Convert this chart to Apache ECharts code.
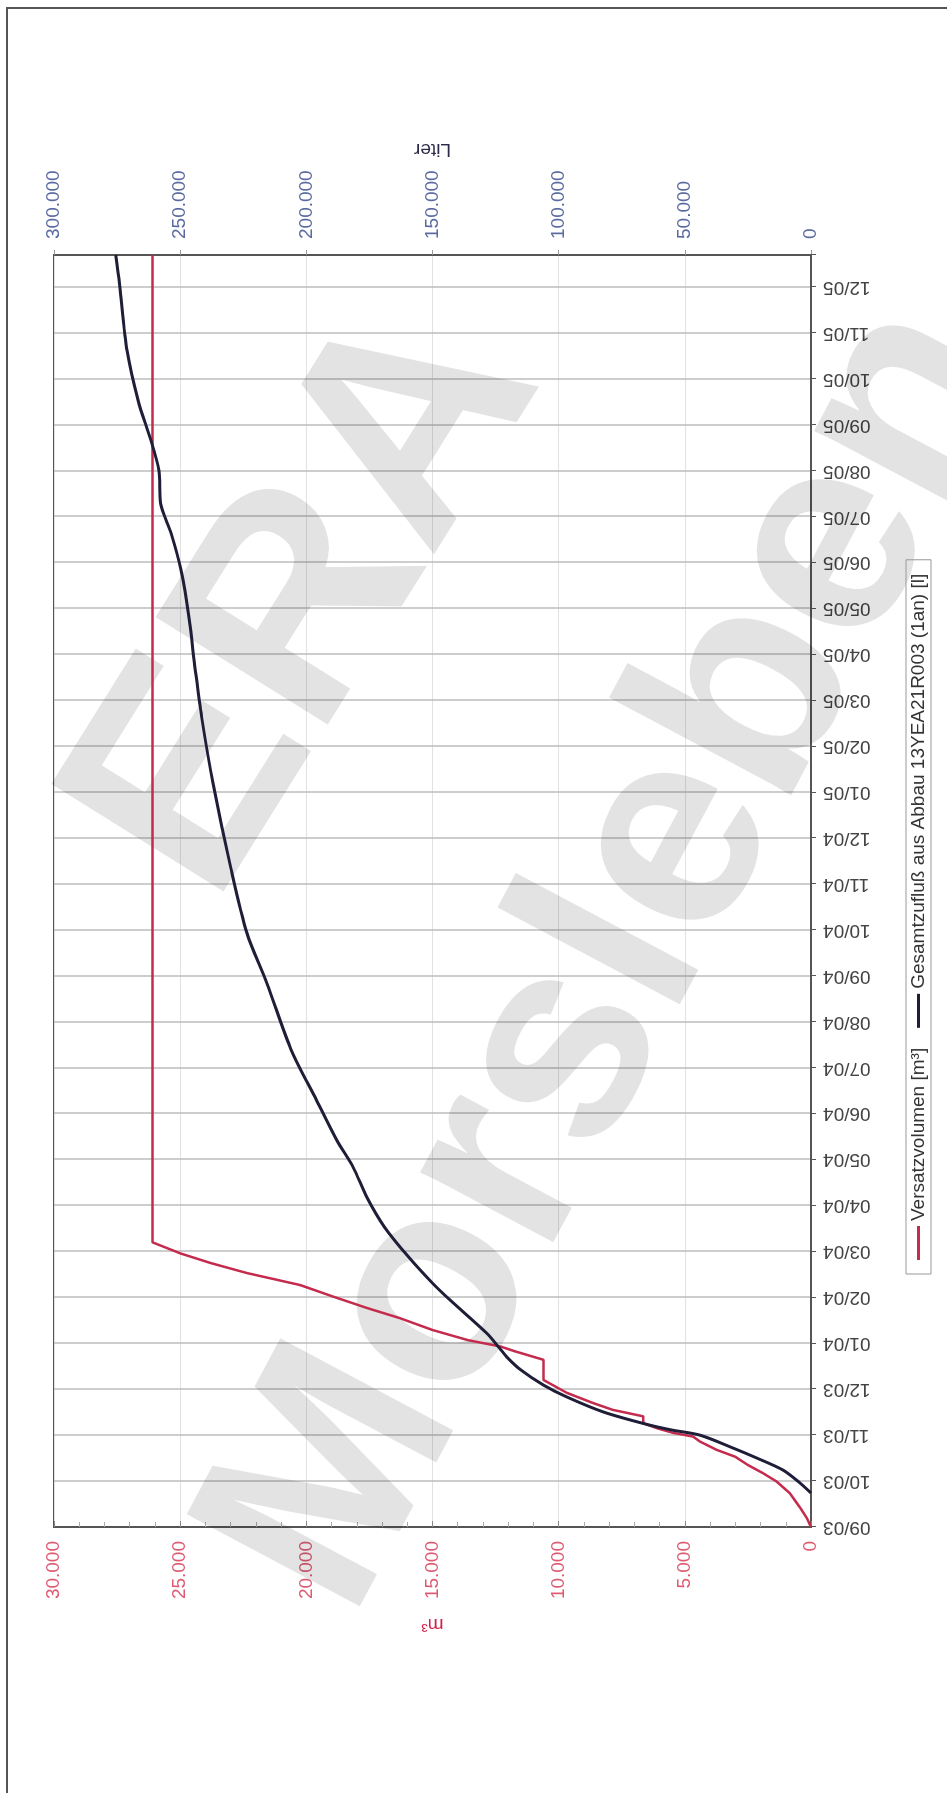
<!DOCTYPE html>
<html><head><meta charset="utf-8">
<script src="https://cdn.jsdelivr.net/npm/echarts@6/dist/echarts.min.js"></script>
<style>
html,body{margin:0;padding:0;background:#fff;overflow:hidden;width:947px;height:1793px;}
#chart{position:absolute;left:0;top:0;width:1793px;height:947px;transform-origin:0 0;transform:translateY(1793px) rotate(-90deg);}
</style></head><body><div id="chart"></div>
<script>
// month tick labels (x axis, one per month starting 09/03)
const months = ['09/03','10/03','11/03','12/03','01/04','02/04','03/04','04/04','05/04','06/04','07/04','08/04','09/04','10/04','11/04','12/04','01/05','02/05','03/05','04/05','05/05','06/05','07/05','08/05','09/05','10/05','11/05','12/05'];
// Versatzvolumen [m³]  (x = months since 09/03)
const redMonth = [0,0.18,0.37,0.55,0.73,0.99,1.17,1.35,1.53,1.68,1.86,1.97,2.05,2.15,2.26,2.41,2.55,2.70,2.92,3.2,3.64,3.82,3.93,4.07,4.29,4.55,4.77,5.01,5.27,5.53,5.75,5.96,6.2,27.7];
const redValue = [0,150,370,600,830,1360,1900,2500,3000,3740,4400,4680,5470,6100,6650,6650,7850,8640,9670,10600,10600,11700,12300,13600,15000,16300,17600,18900,20250,22350,23800,25000,26100,26100];
// Gesamtzufluß aus Abbau 13YEA21R003 (1an) [l]
const blackMonth = [0.74,0.96,1.24,1.5,1.72,2.0,2.11,2.22,2.5,2.83,3.09,3.42,3.7,3.9,4.22,4.94,5.31,5.88,6.53,7.18,7.84,8.43,9.3,10.39,11.84,12.93,14.37,16.2,17.64,18.66,19.8,20.84,21.64,22.3,23.0,23.67,24.5,25.6,27.07,27.7];
const blackValue = [0,4400,11100,21400,30900,44000,55000,64000,82000,96700,106000,115000,120500,123500,128500,143000,150000,159500,169000,176000,181500,188000,196000,206000,215600,223500,230000,237000,241500,244000,246500,249700,253600,257800,258400,261600,266500,271000,274000,275500];

const fmt = v => String(Math.round(v)).replace(/\B(?=(\d{3})+(?!\d))/g, '.');
const FF = 'Liberation Sans, Arial, sans-serif';
const chart = echarts.init(document.getElementById('chart'), null, {renderer:'canvas', width:1793, height:947});
chart.setOption({
  animation:false,
  backgroundColor:'#fff',
  textStyle:{fontFamily:FF},
  grid:{left:266,right:255,top:54,bottom:136,show:true,borderColor:'#555',borderWidth:2,backgroundColor:'transparent'},
  legend:{
    left:519, top:906, orient:'horizontal',
    borderColor:'#999', borderWidth:1, padding:[3,14], itemGap:20,
    icon:'rect', itemWidth:34, itemHeight:3,
    textStyle:{fontSize:19,color:'#333',fontFamily:FF}
  },
  xAxis:{
    type:'value', min:0, max:27.7, interval:1,
    axisLine:{show:true,lineStyle:{color:'#555',width:2}},
    axisTick:{show:true,length:5,lineStyle:{color:'#555'}},
    axisLabel:{rotate:90,margin:12,fontSize:19,color:'#444',fontFamily:FF,
      formatter:v=>(Number.isInteger(v)&&months[v]!==undefined)?months[v]:''},
    splitLine:{show:true,lineStyle:{color:'#bdbdbd',width:1.5}}
  },
  yAxis:[{
    type:'value', position:'left', min:0, max:30000, interval:5000,
    name:'m³', nameLocation:'middle', nameRotate:90, nameGap:88,
    nameTextStyle:{color:'#d0204a',fontSize:19,fontFamily:FF},
    axisLine:{show:true,lineStyle:{color:'#555',width:2}},
    axisTick:{show:true,inside:true,length:6,lineStyle:{color:'#888'}},
    minorTick:{show:true,splitNumber:5,length:5,lineStyle:{color:'#aaa'}},
    axisLabel:{margin:14,fontSize:19,color:'#dd5a72',fontFamily:FF,formatter:fmt},
    splitLine:{show:true,lineStyle:{color:'#e2e2e2',width:1}}
  },{
    type:'value', position:'right', min:0, max:300000, interval:50000,
    name:'Liter', nameLocation:'middle', nameRotate:90, nameGap:96,
    nameTextStyle:{color:'#2a2a4a',fontSize:19,fontFamily:FF},
    axisLine:{show:true,lineStyle:{color:'#555',width:2}},
    axisTick:{show:true,length:5,lineStyle:{color:'#999'}},
    axisLabel:{margin:16,fontSize:19,color:'#5a6aa0',fontFamily:FF,formatter:fmt},
    splitLine:{show:false}
  }],
  series:[{
    name:'Versatzvolumen [m³]', type:'line', yAxisIndex:0, symbol:'none', showSymbol:false,
    data:redMonth.map((m,i)=>[m,redValue[i]]),
    lineStyle:{color:'#c42b4c',width:2.5}, itemStyle:{color:'#c42b4c'}
  },{
    name:'Gesamtzufluß aus Abbau 13YEA21R003 (1an) [l]', type:'line', yAxisIndex:1, symbol:'none', showSymbol:false,
    smooth:0.3,
    data:blackMonth.map((m,i)=>[m,blackValue[i]]),
    lineStyle:{color:'#1e1e38',width:3}, itemStyle:{color:'#1e1e38'}
  }],
  graphic:[
    {type:'polyline', shape:{points:[[0,7],[1785,7],[1785,947]]}, style:{stroke:'#555',lineWidth:2,fill:null}, z:100, silent:true},
    {type:'text', x:1192, y:309, rotation:-32*Math.PI/180, silent:true, z:1,
      style:{text:'ERA', fontSize:295, fontWeight:'bold', fontFamily:FF, fill:'rgba(0,0,0,0.11)', align:'center', verticalAlign:'middle', textAlign:'center', textVerticalAlign:'middle'}},
    {type:'text', x:836, y:616, rotation:-28*Math.PI/180, silent:true, z:1,
      style:{text:'Morsleben', fontSize:285, fontWeight:'bold', fontFamily:FF, fill:'rgba(0,0,0,0.11)', align:'center', verticalAlign:'middle', textAlign:'center', textVerticalAlign:'middle'}}
  ]
});
</script></body></html>
